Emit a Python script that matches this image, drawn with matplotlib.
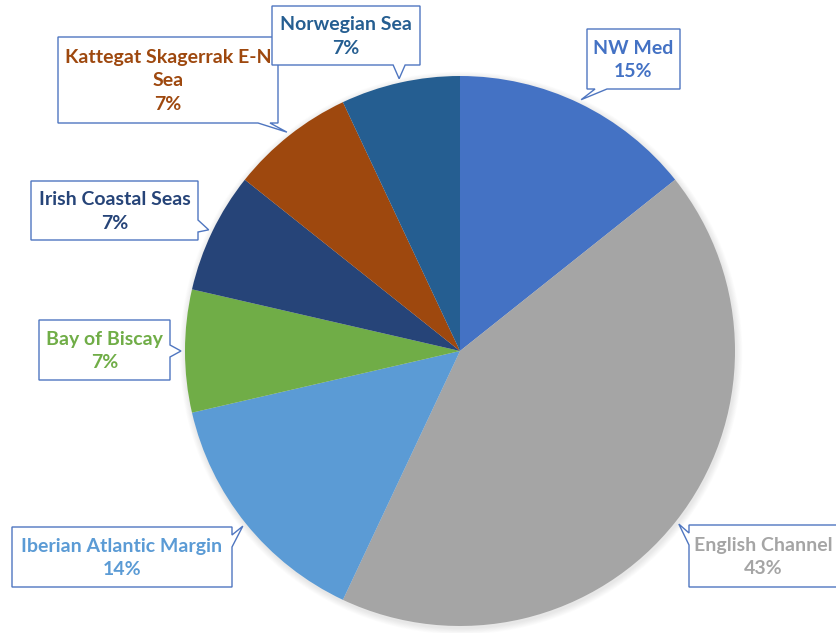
import numpy as np
import matplotlib
matplotlib.use("Agg")
import matplotlib.pyplot as plt
from matplotlib.patches import Polygon, Circle

# data (slice sizes, labels as printed)
regions = ["NW Med", "English Channel", "Iberian Atlantic Margin", "Bay of Biscay",
           "Irish Coastal Seas", "Kattegat Skagerrak E-N\nSea", "Norwegian Sea"]
shares = [14.3, 42.7, 14.4, 7.2, 7.1, 7.3, 7.0]
pct_labels = ["15%", "43%", "14%", "7%", "7%", "7%", "7%"]
colors = ["#4472C4", "#A5A5A5", "#5B9BD5", "#70AD47", "#264478", "#9E480E", "#255E91"]

# layout (pixels, y down): callout box and which side the pointer leaves from
boxes = [(587, 29, 680, 89), (689, 525, 850, 587), (12, 527, 232, 587), (39, 320, 170, 380),
         (31, 181, 198, 240), (58, 37, 278, 123), (272, 6, 420, 65)]
sides = ["bottom", "left", "right", "right", "right", "bottom", "bottom"]

W, H = 837, 633
cx, cy, R = 460, 351, 275

fig = plt.figure(figsize=(W / 100, H / 100), dpi=100)
ax = fig.add_axes([0, 0, 1, 1])

# soft shadow round the pie
for k in range(8, 0, -1):
    ax.add_patch(Circle((cx + 1, cy + 2), R + k * 0.8, color="k", alpha=0.012, lw=0, zorder=0))

wedges, _ = ax.pie(shares, colors=colors, startangle=-90, counterclock=True,
                   center=(cx, cy), radius=R, wedgeprops=dict(linewidth=0))
ax.set_xlim(0, W)
ax.set_ylim(H, 0)
ax.set_aspect("equal")
ax.axis("off")


def callout(box, side, tip, half=6, margin=14):
    x0, y0, x1, y1 = box
    tx, ty = tip
    if side in ("top", "bottom"):
        c = np.clip(tx, x0 + margin, x1 - margin)
    else:
        c = np.clip(ty, y0 + margin, y1 - margin)
    pts = [(x0, y0)]
    if side == "top":
        pts += [(c - half, y0), (tx, ty), (c + half, y0)]
    pts.append((x1, y0))
    if side == "right":
        pts += [(x1, c - half), (tx, ty), (x1, c + half)]
    pts.append((x1, y1))
    if side == "bottom":
        pts += [(c + half, y1), (tx, ty), (c - half, y1)]
    pts.append((x0, y1))
    if side == "left":
        pts += [(x0, c + half), (tx, ty), (x0, c - half)]
    return pts


for i, (w, name, pct, col) in enumerate(zip(wedges, regions, pct_labels, colors)):
    mid = np.deg2rad((w.theta1 + w.theta2) / 2)
    tip = (cx + (R + 4) * np.cos(mid), cy + (R + 4) * np.sin(mid))
    pts = callout(boxes[i], sides[i], tip)
    ax.add_patch(Polygon(pts, closed=True, fc="white", ec="#4f76c0", lw=1.0, zorder=3 + 2 * i))
    x0, y0, x1, y1 = boxes[i]
    xc = 763 if x1 > W else (x0 + x1) / 2
    ax.text(xc, (y0 + y1) / 2 + 1, f"{name}\n{pct}",
            ha="center", va="center", color=col, fontsize=14, fontweight="bold",
            family=["Lato", "DejaVu Sans"], linespacing=1.45, zorder=4 + 2 * i)

fig.savefig("out.png", dpi=100)
